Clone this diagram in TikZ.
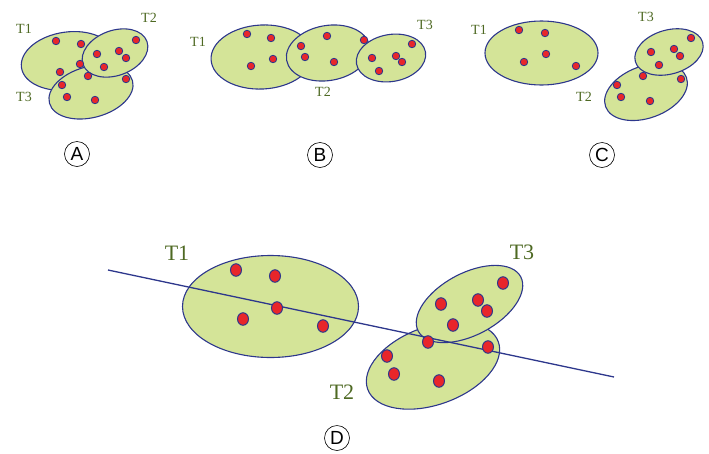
\documentclass[tikz,border=0pt]{standalone}
\usepackage{fontspec}
\setmainfont{Liberation Serif}
\newfontfamily\lettersans{Liberation Sans}
\usetikzlibrary{shapes.geometric}
\definecolor{fillg}{RGB}{212,228,152}
\definecolor{edgeblue}{RGB}{45,55,140}
\definecolor{dotred}{RGB}{232,38,42}
\definecolor{labgreen}{RGB}{78,105,35}
\tikzset{
  cluster/.style={ellipse, draw=edgeblue, fill=fillg, line width=1.1pt, inner sep=0pt},
  dotsm/.style={circle, draw=edgeblue, fill=dotred, line width=0.8pt, inner sep=0pt, minimum size=7.5pt},
  dotlg/.style={ellipse, draw=edgeblue, fill=dotred, line width=1pt, inner sep=0pt, minimum width=11pt, minimum height=12.5pt},
  labsm/.style={text=labgreen, font=\fontsize{14}{14}\selectfont, inner sep=0pt},
  lablg/.style={text=labgreen, font=\fontsize{22}{22}\selectfont, inner sep=0pt},
  panel/.style={circle, draw=black, line width=0.6pt, minimum size=25pt, inner sep=0pt, font=\lettersans\fontsize{19}{19}\selectfont},
  sepline/.style={draw=edgeblue, line width=1.3pt}
}
\begin{document}
\begin{tikzpicture}[x=1pt,y=-1pt]
\useasboundingbox (0,0) rectangle (709,453);
% ---------- Panel A ----------
\node[cluster, minimum width=94pt, minimum height=58pt, rotate=8] (aT1) at (68,61) {};
\node[cluster, minimum width=86pt, minimum height=51pt, rotate=15] (aT3) at (91,92) {};
\node[cluster, minimum width=68pt, minimum height=45pt, rotate=20] (aT2) at (115,53) {};
\foreach \x/\y [count=\i] in {56/41,81/44,97/54,119/51,126/58,136/40,104/67,80/64,60/72,88/76,126/79,62/85,67/97,95/100}
  \node[dotsm] (a\i) at (\x,\y) {};
\node[labsm] (aL1) at (24,29) {T1};
\node[labsm] (aL2) at (149,18) {T2};
\node[labsm] (aL3) at (24,97) {T3};
\node[panel] (pA) at (77,154) {A};
% ---------- Panel B ----------
\node[cluster, minimum width=102pt, minimum height=64pt, rotate=3] (bT1) at (262,57) {};
\node[cluster, minimum width=84pt, minimum height=55pt, rotate=10] (bT2) at (328,53) {};
\node[cluster, minimum width=70pt, minimum height=47pt, rotate=10] (bT3) at (391,58) {};
\foreach \x/\y [count=\i] in {247/34,271/38,273/59,251/66,301/46,327/36,364/40,305/57,334/62,372/58,396/56,402/62,412/44,379/71}
  \node[dotsm] (b\i) at (\x,\y) {};
\node[labsm] (bL1) at (198,42) {T1};
\node[labsm] (bL2) at (323,92) {T2};
\node[labsm] (bL3) at (425,25) {T3};
\node[panel] (pB) at (320,155) {B};
% ---------- Panel C ----------
\node[cluster, minimum width=113pt, minimum height=64pt] (cT1) at (541.5,53) {};
\node[cluster, minimum width=86pt, minimum height=52pt, rotate=20] (cT2) at (646,92) {};
\node[cluster, minimum width=70pt, minimum height=44pt, rotate=16] (cT3) at (669,52) {};
\foreach \x/\y [count=\i] in {519/30,545/33,546/54,524/62,576/66,651/52,674/49,680/56,691/38,659/65,643/76,681/79,617/85,621/97,650/101}
  \node[dotsm] (c\i) at (\x,\y) {};
\node[labsm] (cL1) at (479,30) {T1};
\node[labsm] (cL3) at (646,17) {T3};
\node[labsm] (cL2) at (584,97) {T2};
\node[panel] (pC) at (602,155) {C};
% ---------- Panel D ----------
\node[cluster, minimum width=176pt, minimum height=102pt] (dT1) at (270.5,306.5) {};
\node[cluster, minimum width=139pt, minimum height=78pt, rotate=20] (dT2) at (433,365.5) {};
\node[cluster, minimum width=116pt, minimum height=62pt, rotate=28] (dT3) at (469.5,304) {};
\coordinate (lineS) at (108,270);
\coordinate (lineE) at (614,377);
\draw[sepline] (lineS) -- (lineE);
\foreach \x/\y [count=\i] in {236/270,275/276,277/308,243/319,323/326,503/283,441/304,478/300,487/311,453/325,428/342,488/347,387/356,394/374,439/381}
  \node[dotlg] (d\i) at (\x,\y) {};
\node[lablg] (dL1) at (177,253) {T1};
\node[lablg] (dL3) at (522,252) {T3};
\node[lablg] (dL2) at (342,392) {T2};
\node[panel] (pD) at (337,438) {D};
\end{tikzpicture}
\end{document}
